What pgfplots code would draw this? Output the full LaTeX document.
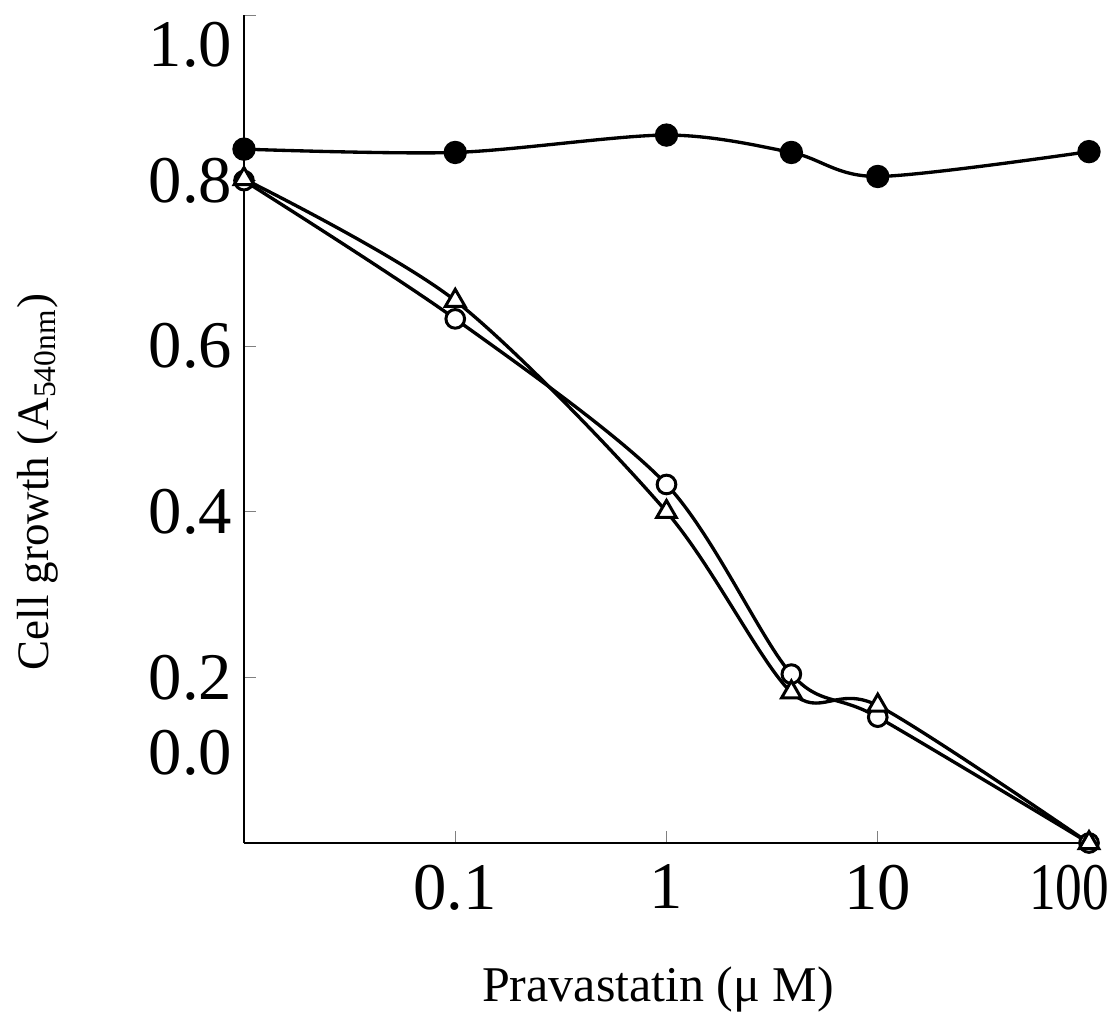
\documentclass[border=0pt]{standalone}
\usepackage{fontspec}
\setmainfont{Liberation Serif}
\usepackage{graphicx}
\usepackage{pgfplots}
\pgfplotsset{compat=1.18}
\begin{document}
\begin{tikzpicture}
\useasboundingbox (-73.2pt,-53.1pt) rectangle (261.9pt,252.9pt);
\begin{axis}[
  at={(0,0)}, anchor=south west,
  scale only axis, width=253.5pt, height=248.4pt,
  xmode=log, xmin=0.01, xmax=100,
  ymin=0, ymax=1,
  axis lines*=left,
  axis line style={line width=0.6pt},
  tick align=inside, major tick length=3.6pt,
  xtick={0.1,1,10,100},
  xticklabels={0.1,1,10,\hspace{-12pt}\scalebox{0.8}[1]{100}},
  xminorticks=false,
  ytick={0,0.2,0.4,0.6,0.8,1},
  yticklabels={\raisebox{27pt}[\height][\depth]{0.0},0.2,0.4,0.6,0.8,\raisebox{-9pt}[\height][\depth]{1.0}},
  ticklabel style={font=\fontsize{20}{24}\selectfont},
  xticklabel style={yshift=-3pt},
  xlabel={Pravastatin (μ M)},
  xlabel style={font=\fontsize{15}{18}\selectfont, at={(axis description cs:0.49,0)}, anchor=center, yshift=-44pt},
  ylabel={Cell growth (A\textsubscript{540nm})},
  ylabel style={font=\fontsize{13.5}{16}\selectfont, at={([xshift=-62pt]axis description cs:0,0.436)}, anchor=center},
  clip=false,
  every axis plot/.append style={black, line width=1pt, smooth},
]
% open circles
\addplot[mark=*, mark size=2.8pt, mark options={fill=white, line width=0.9pt}] coordinates {
  (0.01,0.800) (0.1,0.633) (1,0.433) (3.9,0.204) (10,0.152) (100,0.0)};
% open triangles
\addplot[mark=triangle*, mark size=3.4pt, mark options={fill=white, line width=0.9pt}] coordinates {
  (0.01,0.802) (0.1,0.655) (1,0.400) (3.9,0.182) (10,0.166) (100,0.0)};
% filled circles
\addplot[mark=*, mark size=3pt, mark options={fill=black}] coordinates {
  (0.01,0.838) (0.1,0.834) (1,0.855) (3.9,0.834) (10,0.805) (100,0.835)};
\end{axis}
\end{tikzpicture}
\end{document}
